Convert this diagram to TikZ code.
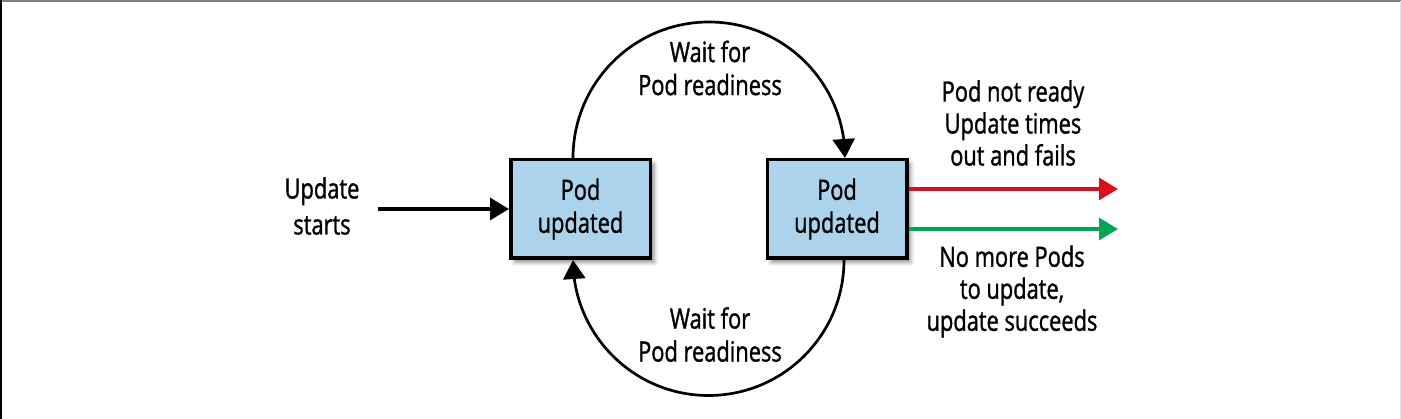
\documentclass[tikz,border=0pt]{standalone}
\usepackage{fontspec}
\setmainfont{Open Sans}[FakeStretch=0.78,FakeBold=1.2]
\usetikzlibrary{arrows.meta,bending,shadows.blur}
\definecolor{boxblue}{HTML}{ABD4EC}
\definecolor{failred}{HTML}{D9101F}
\definecolor{okgreen}{HTML}{00A651}
\begin{document}
\begin{tikzpicture}[x=1pt,y=1pt,
  lbl/.style={align=center,inner sep=0pt,font=\fontsize{28}{32}\selectfont},
  podbox/.style={draw=black,line width=3.5pt,fill=boxblue,minimum width=139.5pt,minimum height=98.5pt,
    align=center,inner sep=0pt,font=\fontsize{28}{33}\selectfont,
    blur shadow={shadow xshift=4pt,shadow yshift=-4pt,shadow blur radius=4pt,shadow opacity=45}},
  tip/.style={-{Triangle[length=19pt,width=22pt]}},
  straightarr/.style={tip,line width=3.2pt},
  arcarr/.style={tip,line width=2.7pt}]
\useasboundingbox (0,0) rectangle (1401,419);
% frame
\draw[line width=2pt,gray] (0,418) -- (1401,418);
\draw[line width=1.5pt,black] (0.75,0) -- (0.75,419);
\draw[line width=0.8pt,black!10] (1400.6,0) -- (1400.6,418);
% boxes
\node[podbox] (b1) at (580.5,210) {Pod\\updated};
\node[podbox] (b2) at (837,210) {Pod\\updated};
% labels
\node[lbl,font=\fontsize{28}{36}\selectfont] (us) at (322,213) {Update\\starts};
\node[lbl,font=\fontsize{28}{33}\selectfont] (wt) at (710,351) {Wait for\\Pod readiness};
\node[lbl,font=\fontsize{28}{33}\selectfont] (wb) at (710,84.5) {Wait for\\Pod readiness};
\node[lbl] (fail) at (1013,296) {Pod not ready\\Update times\\out and fails};
\node[lbl] (ok) at (1012,127.5) {No more Pods\\to update,\\update succeeds};
\coordinate (usend) at (378,210);
\coordinate (failend) at (1118,230);
\coordinate (okend) at (1118,190);
% connectors
\draw[straightarr] (usend) -- (b1.west);
\draw[straightarr,failred] (b2.east |- failend) -- (failend);
\draw[straightarr,okgreen] (b2.east |- okend) -- (okend);
\draw[arcarr] ([xshift=-7.5pt]b1.north) arc[start angle=180,end angle=0,radius=136pt];
\draw[arcarr] ([xshift=7pt]b2.south) arc[start angle=0,end angle=-180,radius=135.5pt];
\end{tikzpicture}
\end{document}
